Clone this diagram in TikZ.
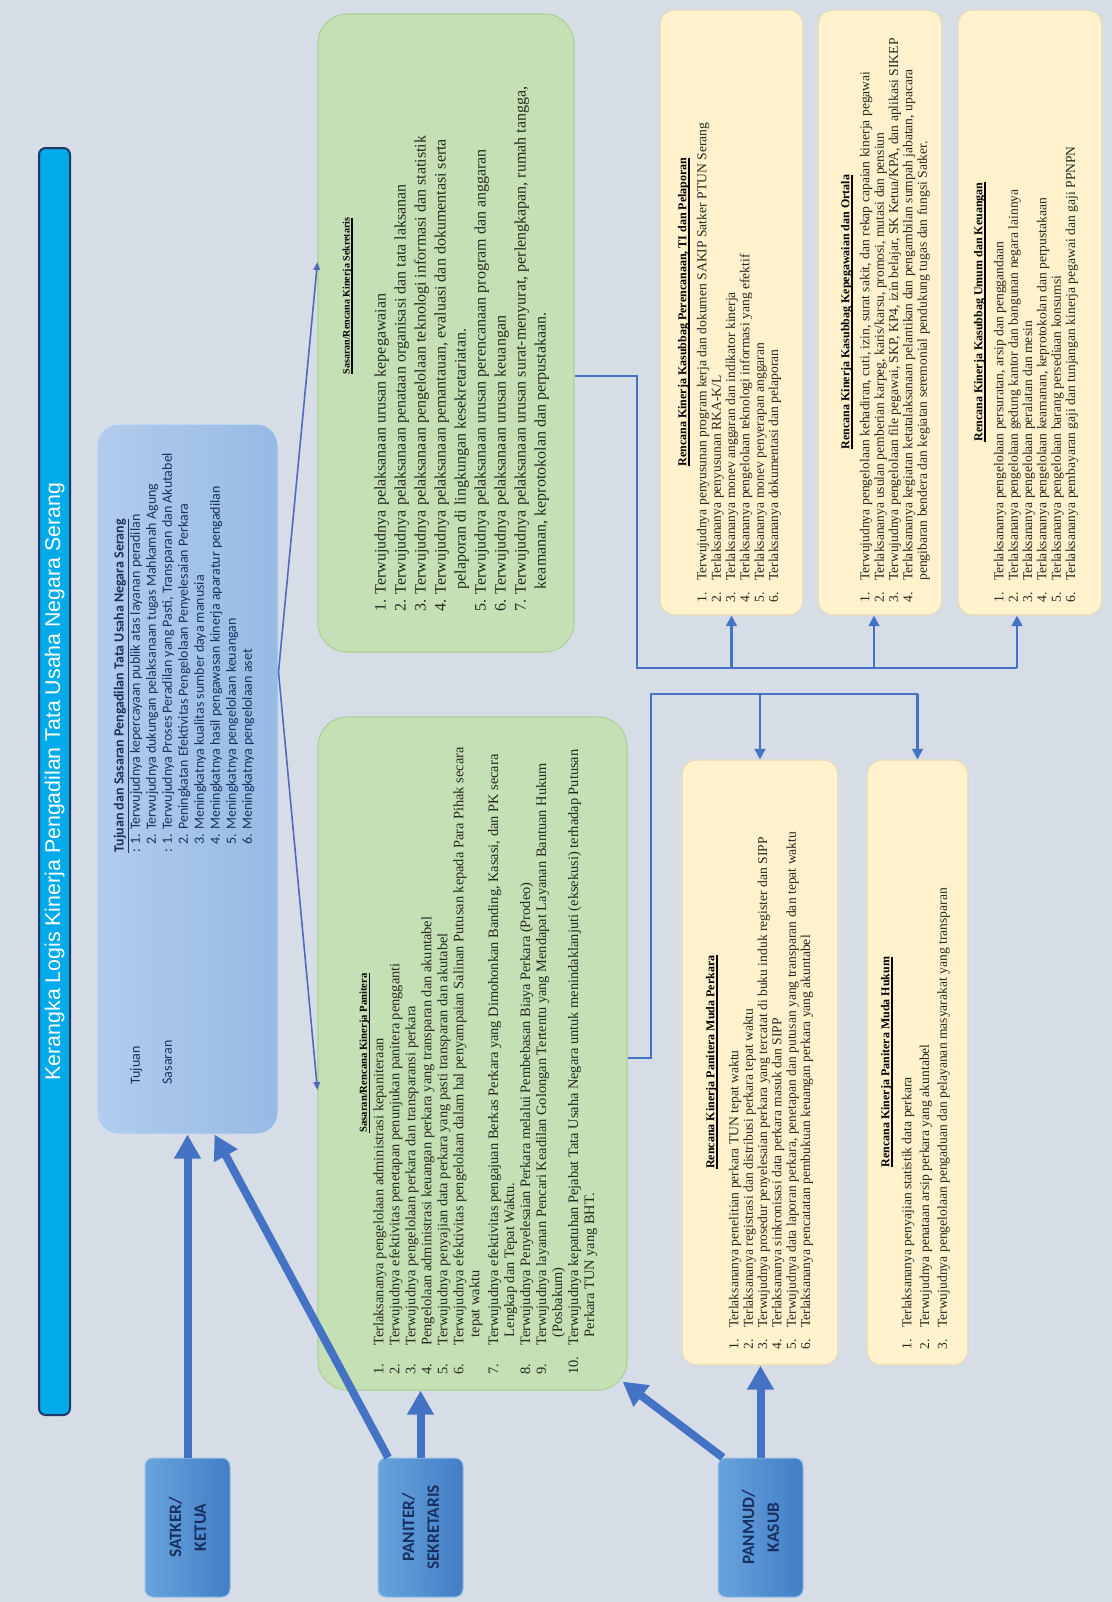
\documentclass[tikz,border=0pt]{standalone}
\usepackage{fontspec}
\setmainfont{Liberation Serif}
\newfontfamily\carlito{Carlito}
\newfontfamily\arialf{Liberation Sans}
\usetikzlibrary{arrows.meta,fit,calc}

\definecolor{bgcol}{RGB}{214,221,231}
\definecolor{arrowblue}{RGB}{68,114,196}
\definecolor{thinblue}{RGB}{84,104,192}
\definecolor{titlefill}{RGB}{0,170,235}
\definecolor{titleedge}{RGB}{31,56,100}
\definecolor{tujlight}{RGB}{178,204,236}
\definecolor{tujdark}{RGB}{150,186,228}
\definecolor{greenfill}{RGB}{197,224,180}
\definecolor{greenedge}{RGB}{172,208,148}
\definecolor{yellowfill}{RGB}{255,242,204}
\definecolor{yellowedge}{RGB}{226,218,186}
\definecolor{rolelight}{RGB}{104,164,220}
\definecolor{roledark}{RGB}{66,125,198}
\definecolor{navytext}{RGB}{24,48,96}
\definecolor{bodytext}{RGB}{35,40,30}

\newcommand{\nr}[2][1.6em]{\makebox[#1][l]{#2}}
\newsavebox{\hdbox}
\newcommand{\hd}[1]{\sbox{\hdbox}{#1}\rlap{\rule[-2.6pt]{\wd\hdbox}{1.3pt}}\usebox{\hdbox}}

\tikzset{every picture/.style={line width=0.75pt}}
\tikzset{
  gbox/.style={draw=greenedge,fill=greenfill,rounded corners=22pt,inner sep=0pt,line width=0.8pt},
  ybox/.style={draw=yellowedge,fill=yellowfill,rounded corners=11pt,inner sep=0pt,line width=0.8pt},
  rolebox/.style={draw=rolelight!70!white,left color=rolelight,right color=roledark,rounded corners=6pt,inner sep=0pt},
  vtext/.style={rotate=90,inner sep=0pt,align=left,anchor=north west,text=bodytext},
  vhead/.style={rotate=90,inner sep=0pt,text=black,font=\bfseries\fontsize{9}{10.5}\selectfont},
  ylist/.style={vtext,font=\fontsize{10.2}{10.75}\selectfont},
  rolelabel/.style={rotate=90,align=center,text=navytext,font=\carlito\bfseries\fontsize{13}{18.5}\selectfont},
  fat/.style={draw=arrowblue,line width=6pt,-{Triangle[length=18pt,width=19pt]}},
  bus/.style={draw=arrowblue,line width=2.2pt},
  busarrow/.style={bus,-{Triangle[length=8pt,width=8pt]}},
  slim/.style={draw=thinblue,line width=1.2pt,-{Triangle[length=6pt,width=5pt]}}
}

\begin{document}
\begin{tikzpicture}[x=0.75pt,y=0.75pt,yscale=-1,xscale=1]
\useasboundingbox (0,0) rectangle (1112,1602);
\fill[bgcol] (0,0) rectangle (1112,1602);

%Rounded Rect [id:dp_title]
\node[draw=titleedge,fill=titlefill,rounded corners=5pt,inner sep=0pt,line width=1.5pt,fit={(39,148) (70,1415)}] (titlebar) {};
% Text Node
\node[rotate=90,text=white,font=\arialf\fontsize{16}{19}\selectfont] (titletext) at (titlebar.center) {Kerangka Logis Kinerja Pengadilan Tata Usaha Negara Serang};

%Rounded Rect [id:dp_tujuan]
\node[draw=tujlight!60!white,left color=tujlight,right color=tujdark,rounded corners=16pt,inner sep=0pt,fit={(97,424) (278,1134)}] (tuj) {};
% Text Node
\node[vtext,text=navytext,font=\carlito\fontsize{10.5}{12}\selectfont] (tujtext) at (112,1085) {%
\begin{tabular}{@{}p{174pt}@{}l@{}}
 & \textbf{\underline{Tujuan dan Sasaran Pengadilan Tata Usaha Negara Serang}}\\
Tujuan & : 1. Terwujudnya kepercayaan publik atas layanan peradilan\\
 & \phantom{: }2. Terwujudnya dukungan pelaksanaan tugas Mahkamah Agung\\
Sasaran & : 1. Terwujudnya Proses Peradilan yang Pasti, Transparan dan Akutabel\\
 & \phantom{: }2. Peningkatan Efektivitas Pengelolaan Penyelesaian Perkara\\
 & \phantom{: }3. Meningkatnya kualitas sumber daya manusia\\
 & \phantom{: }4. Meningkatnya hasil pengawasan kinerja aparatur pengadilan\\
 & \phantom{: }5. Meningkatnya pengelolaan keuangan\\
 & \phantom{: }6. Meningkatnya pengelolaan aset
\end{tabular}};

%Rounded Rect [id:dp_sekretaris]
\node[gbox,fit={(318,14) (574,652)}] (sek) {};
% Text Node
\node[vhead,font=\bfseries\fontsize{7.5}{9}\selectfont] (sekhead) at (348,296) {\hd{Sasaran/Rencana Kinerja Sekretaris}};
% Text Node
\node[vtext,font=\fontsize{12}{15}\selectfont] (seklist) at (374,612) {%
1. Terwujudnya pelaksanaan urusan kepegawaian\\
2. Terwujudnya pelaksanaan penataan organisasi dan tata laksanan\\
3. Terwujudnya pelaksanaan pengelolaan teknologi informasi dan statistik\\
4. Terwujudnya pelaksanaan pemantauan, evaluasi dan dokumentasi serta\\
\hspace*{1.4em}pelaporan di lingkungan kesekretariatan.\\
5. Terwujudnya pelaksanaan urusan perencanaan program dan anggaran\\
6. Terwujudnya pelaksanaan urusan keuangan\\
7. Terwujudnya pelaksanaan urusan surat-menyurat, perlengkapan, rumah tangga,\\
\hspace*{1.4em}keamanan, keprotokolan dan perpustakaan.};

%Rounded Rect [id:dp_panitera]
\node[gbox,fit={(318,717) (627,1390)}] (pan) {};
% Text Node
\node[vhead,font=\bfseries\fontsize{8}{9.5}\selectfont] (panhead) at (365,1053) {\hd{Sasaran/Rencana Kinerja Panitera}};
% Text Node
\node[vtext,font=\fontsize{10.8}{12}\selectfont] (panlist) at (373,1375) {%
\nr[2em]{1.}Terlaksananya pengelolaan administrasi kepaniteraan\\
\nr[2em]{2.}Terwujudnya efektivitas penetapan penunjukan panitera pengganti\\
\nr[2em]{3.}Terwujudnya pengelolaan perkara dan transparansi perkara\\
\nr[2em]{4.}Pengelolaan administrasi keuangan perkara yang transparan dan akuntabel\\
\nr[2em]{5.}Terwujudnya penyajian data perkara yang pasti transparan dan akutabel\\
\nr[2em]{6.}Terwujudnya efektivitas pengelolaan dalam hal penyampaian Salinan Putusan kepada Para Pihak secara\\
\hspace*{2.6em}tepat waktu\\[2pt]
\nr[2em]{7.}Terwujudnya efektivitas pengajuan Berkas Perkara yang Dimohonkan Banding, Kasasi, dan PK secara\\
\hspace*{2.6em}Lengkap dan Tepat Waktu.\\
\nr[2em]{8.}Terwujudnya Penyelesaian Perkara melalui Pembebasan Biaya Perkara (Prodeo)\\
\nr[2em]{9.}Terwujudnya layanan Pencari Keadilan Golongan Tertentu yang Mendapat Layanan Bantuan Hukum\\
\hspace*{2.6em}(Posbakum)\\
\nr[2em]{10.}Terwujudnya kepatuhan Pejabat Tata Usaha Negara untuk menindaklanjuti (eksekusi) terhadap Putusan\\
\hspace*{2.6em}Perkara TUN yang BHT.};

%Rounded Rect [id:dp_perencanaan]
\node[ybox,fit={(660,10) (803,615)}] (yren) {};
% Text Node
\node[vhead] (yrenhead) at (684,312) {\hd{Rencana Kinerja Kasubbag Perencanaan, TI dan Pelaporan}};
% Text Node
\node[ylist] (yrenlist) at (696.5,603) {%
\nr{1.}Terwujudnya penyusunan program kerja dan dokumen SAKIP Satker PTUN Serang\\
\nr{2.}Terlaksananya penyusunan RKA-K/L\\
\nr{3.}Terlaksananya monev anggaran dan indikator kinerja\\
\nr{4.}Terlaksananya pengelolaan teknologi informasi yang efektif\\
\nr{5.}Terlaksananya monev penyerapan anggaran\\
\nr{6.}Terlaksananya dokumentasi dan pelaporan};

%Rounded Rect [id:dp_kepegawaian]
\node[ybox,fit={(818,10) (942,615)}] (ypeg) {};
% Text Node
\node[vhead] (ypeghead) at (847,312) {\hd{Rencana Kinerja Kasubbag Kepegawaian dan Ortala}};
% Text Node
\node[ylist] (ypeglist) at (859.5,603) {%
\nr{1.}Terwujudnya pengelolaan kehadiran, cuti, izin, surat sakit, dan rekap capaian kinerja pegawai\\
\nr{2.}Terlaksananya usulan pemberian karpeg, karis/karsu, promosi, mutasi dan pensiun\\
\nr{3.}Terwujudnya pengelolaan file pegawai, SKP, KP4, izin belajar, SK Ketua/KPA, dan aplikasi SIKEP\\
\nr{4.}Terlaksananya kegiatan ketatalaksanaan pelantikan dan pengambilan sumpah jabatan, upacara\\
\hspace*{1.6em}pengibaran bendera dan kegiatan seremonial pendukung tugas dan fungsi Satker.};

%Rounded Rect [id:dp_umum]
\node[ybox,fit={(958,10) (1102,615)}] (yum) {};
% Text Node
\node[vhead] (yumhead) at (980,312) {\hd{Rencana Kinerja Kasubbag Umum dan Keuangan}};
% Text Node
\node[ylist] (yumlist) at (993.5,603) {%
\nr{1.}Terlaksananya pengelolaan persuratan, arsip dan penggandaan\\
\nr{2.}Terlaksananya pengelolaan gedung kantor dan bangunan negara lainnya\\
\nr{3.}Terlaksananya pengelolaan peralatan dan mesin\\
\nr{4.}Terlaksananya pengelolaan keamanan, keprotokolan dan perpustakaan\\
\nr{5.}Terlaksananya pengelolaan barang persediaan konsumsi\\
\nr{6.}Terlaksananya pembayaran gaji dan tunjangan kinerja pegawai dan gaji PPNPN};

%Rounded Rect [id:dp_mudaperkara]
\node[ybox,fit={(682,760) (838,1365)}] (ypk) {};
% Text Node
\node[vhead] (ypkhead) at (712,1062) {\hd{Rencana Kinerja Panitera Muda Perkara}};
% Text Node
\node[ylist] (ypklist) at (728.5,1350) {%
\nr{1.}Terlaksananya penelitian perkara TUN tepat waktu\\
\nr{2.}Terlaksananya registrasi dan distribusi perkara tepat waktu\\
\nr{3.}Terwujudnya prosedur penyelesaian perkara yang tercatat di buku induk register dan SIPP\\
\nr{4.}Terlaksananya sinkronisasi data perkara masuk dan SIPP\\
\nr{5.}Terwujudnya data laporan perkara, penetapan dan putusan yang transparan dan tepat waktu\\
\nr{6.}Terlaksananya pencatatan pembukuan keuangan perkara yang akuntabel};

%Rounded Rect [id:dp_mudahukum]
\node[ybox,fit={(867,760) (968,1365)}] (yhk) {};
% Text Node
\node[vhead] (yhkhead) at (887,1062) {\hd{Rencana Kinerja Panitera Muda Hukum}};
% Text Node
\node[ylist] (yhklist) at (901.5,1350) {%
\nr{1.}Terlaksananya penyajian statistik data perkara\\[2.5pt]
\nr{2.}Terwujudnya penataan arsip perkara yang akuntabel\\[2.5pt]
\nr{3.}Terwujudnya pengelolaan pengaduan dan pelayanan masyarakat yang transparan};

%Rounded Rect [id:dp_roles]
\node[rolebox,fit={(145,1458) (230,1597)}] (satker) {};
\node[rolelabel] (satkertext) at (satker.center) {SATKER/\\KETUA};
\node[rolebox,fit={(378,1458) (463,1597)}] (panit) {};
\node[rolelabel] (panittext) at (panit.center) {PANITER/\\SEKRETARIS};
\node[rolebox,fit={(718,1458) (803,1597)}] (panmud) {};
\node[rolelabel] (panmudtext) at (panmud.center) {PANMUD/\\KASUB};

%Straight Lines [id:da_fat]
\draw[fat] (satker.north) -- (satker.north |- tuj.south);
\draw[fat] ([xshift=8pt]panit.north west) -- ($(tuj.south)+(27,0)$);
\draw[fat] (panit.north) -- (panit.north |- pan.south);
\draw[fat] ([xshift=4pt]panmud.north west) -- ($(pan.south east)+(-5,-9)$);
\draw[fat] (panmud.north) -- (panmud.north |- ypk.south);

%Straight Lines [id:da_slim]
\draw[slim] (tuj.east |- 0,672) -- (sek.west |- 0,262);
\draw[slim] (tuj.east |- 0,672) -- (pan.west |- 0,1090);

%Straight Lines [id:da_bus]
\coordinate (busa) at (637,668);
\coordinate (busb) at (651,694);
\coordinate (pegin) at ([xshift=-4.5pt]ypeg.south);
\coordinate (umin) at ([xshift=-9.75pt]yum.south);
\draw[bus] (sek.east |- 0,376) -| (busa) -- (busa -| umin);
\draw[busarrow] (busa -| yren.south) -- (yren.south);
\draw[busarrow] (busa -| pegin) -- (pegin);
\draw[busarrow] (busa -| umin) -- (umin);
\draw[bus] (pan.east |- 0,1058) -| (busb) -- (busb -| yhk.north);
\draw[busarrow] (busb -| ypk.north) -- (ypk.north);
\draw[busarrow] (busb -| yhk.north) -- (yhk.north);

\end{tikzpicture}
\end{document}
